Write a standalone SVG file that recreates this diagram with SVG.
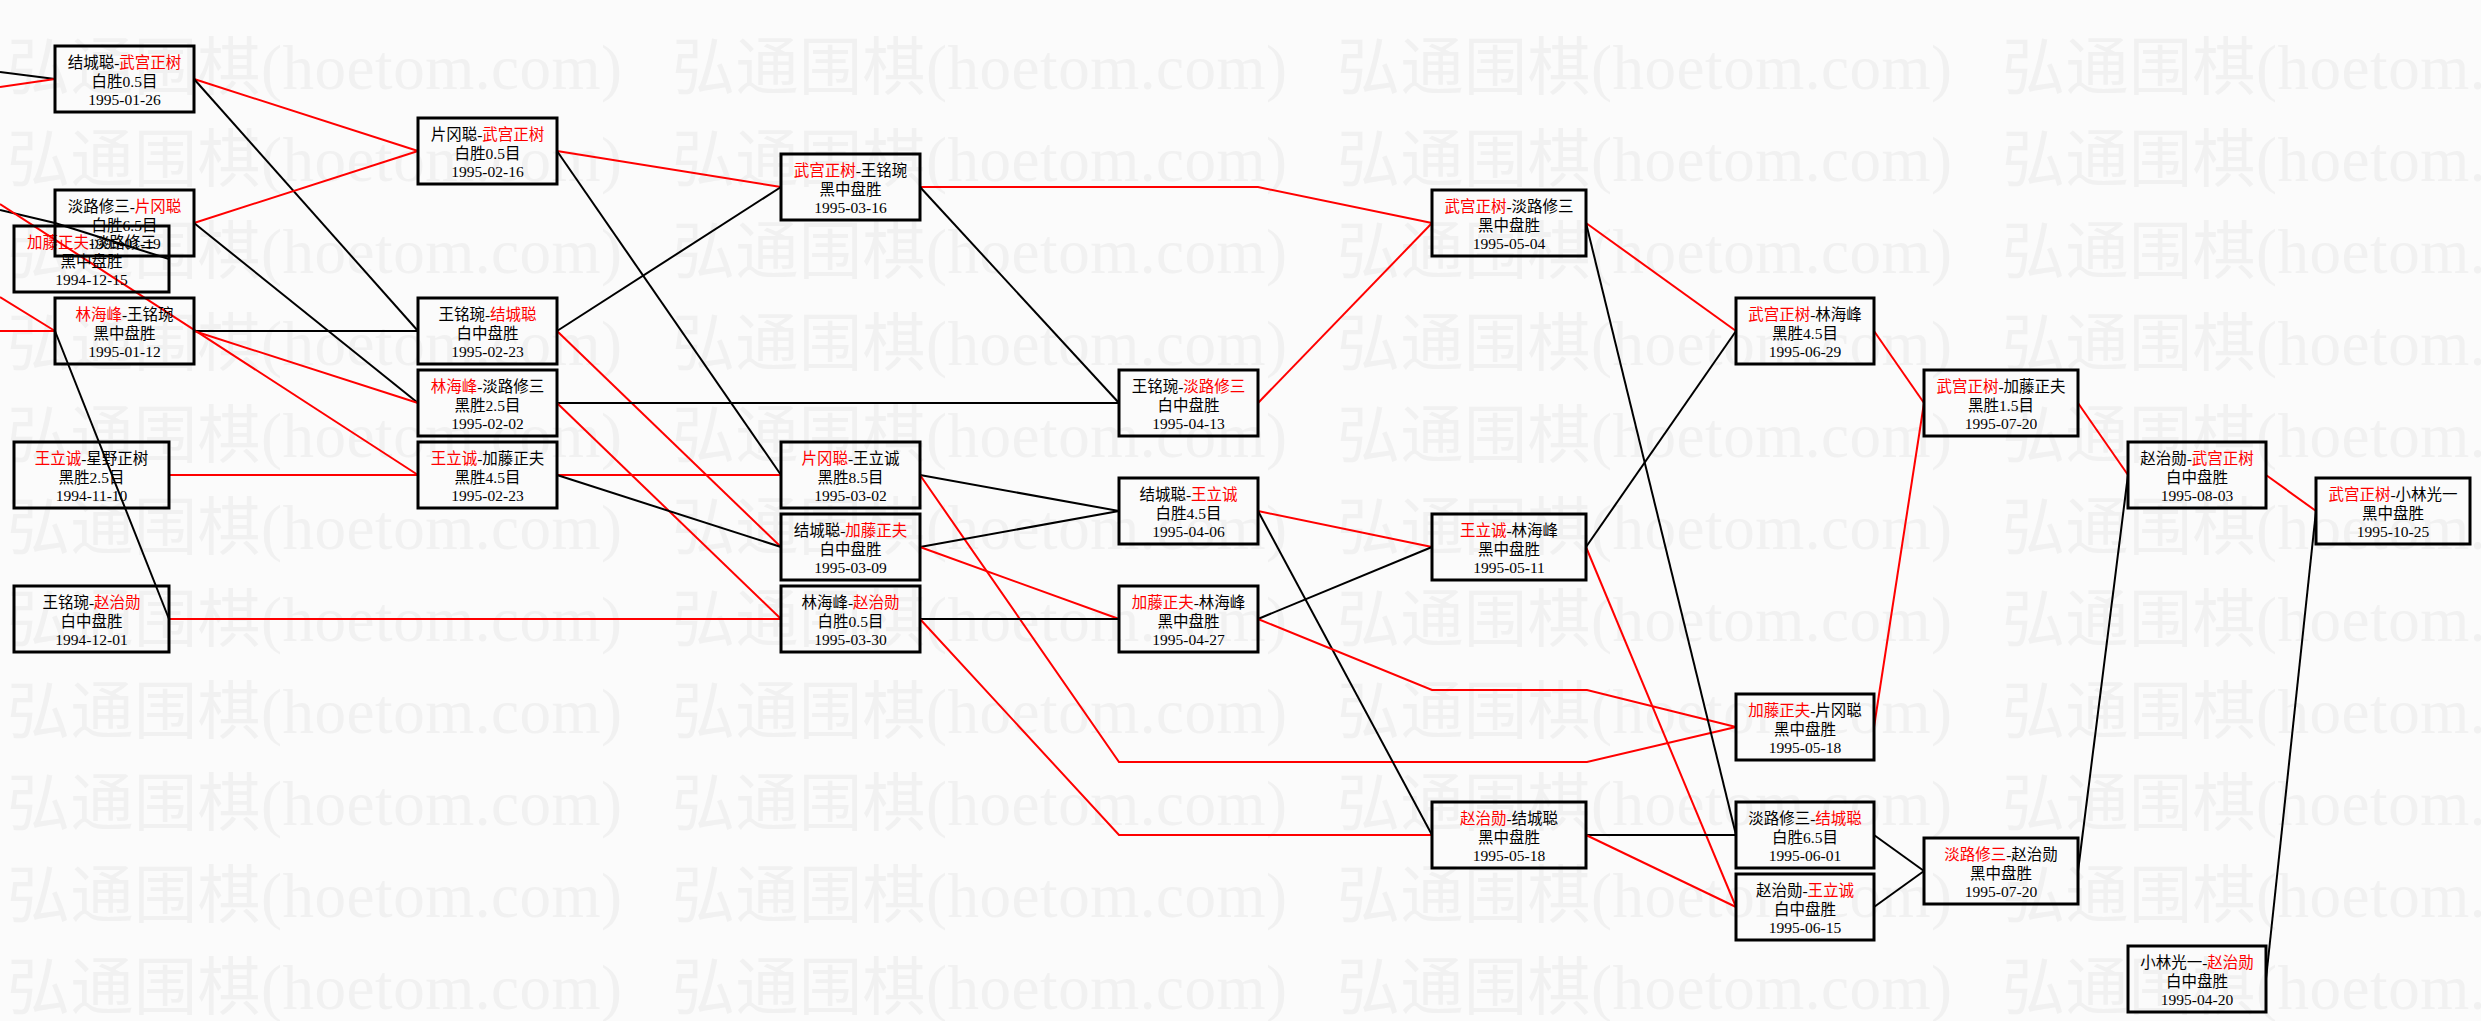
<svg xmlns="http://www.w3.org/2000/svg" width="2481" height="1021" viewBox="0 0 2481 1021">
<style>
.bg{fill:#fbfbfb}
.wm{font-family:"Liberation Serif","Noto Sans CJK SC",serif;font-size:63px;fill:#f1f1f1}
.node rect{fill:none;stroke:#000;stroke-width:3}
.node text{font-family:"Liberation Serif","Noto Sans CJK SC",serif;font-size:15.5px;fill:#000;text-anchor:middle}
.node .r{fill:#ff0000}
.k{stroke:#000;stroke-width:2;fill:none}
.e{stroke:#ff0000;stroke-width:2;fill:none}
</style>
<rect class="bg" x="0" y="0" width="2481" height="1021"/>
<g id="watermark" class="wm">
<text x="7" y="89" textLength="615" lengthAdjust="spacing">弘通围棋(hoetom.com)</text><text x="672" y="89" textLength="615" lengthAdjust="spacing">弘通围棋(hoetom.com)</text><text x="1337" y="89" textLength="615" lengthAdjust="spacing">弘通围棋(hoetom.com)</text><text x="2002" y="89" textLength="615" lengthAdjust="spacing">弘通围棋(hoetom.com)</text>
<text x="7" y="181" textLength="615" lengthAdjust="spacing">弘通围棋(hoetom.com)</text><text x="672" y="181" textLength="615" lengthAdjust="spacing">弘通围棋(hoetom.com)</text><text x="1337" y="181" textLength="615" lengthAdjust="spacing">弘通围棋(hoetom.com)</text><text x="2002" y="181" textLength="615" lengthAdjust="spacing">弘通围棋(hoetom.com)</text>
<text x="7" y="273" textLength="615" lengthAdjust="spacing">弘通围棋(hoetom.com)</text><text x="672" y="273" textLength="615" lengthAdjust="spacing">弘通围棋(hoetom.com)</text><text x="1337" y="273" textLength="615" lengthAdjust="spacing">弘通围棋(hoetom.com)</text><text x="2002" y="273" textLength="615" lengthAdjust="spacing">弘通围棋(hoetom.com)</text>
<text x="7" y="365" textLength="615" lengthAdjust="spacing">弘通围棋(hoetom.com)</text><text x="672" y="365" textLength="615" lengthAdjust="spacing">弘通围棋(hoetom.com)</text><text x="1337" y="365" textLength="615" lengthAdjust="spacing">弘通围棋(hoetom.com)</text><text x="2002" y="365" textLength="615" lengthAdjust="spacing">弘通围棋(hoetom.com)</text>
<text x="7" y="457" textLength="615" lengthAdjust="spacing">弘通围棋(hoetom.com)</text><text x="672" y="457" textLength="615" lengthAdjust="spacing">弘通围棋(hoetom.com)</text><text x="1337" y="457" textLength="615" lengthAdjust="spacing">弘通围棋(hoetom.com)</text><text x="2002" y="457" textLength="615" lengthAdjust="spacing">弘通围棋(hoetom.com)</text>
<text x="7" y="549" textLength="615" lengthAdjust="spacing">弘通围棋(hoetom.com)</text><text x="672" y="549" textLength="615" lengthAdjust="spacing">弘通围棋(hoetom.com)</text><text x="1337" y="549" textLength="615" lengthAdjust="spacing">弘通围棋(hoetom.com)</text><text x="2002" y="549" textLength="615" lengthAdjust="spacing">弘通围棋(hoetom.com)</text>
<text x="7" y="641" textLength="615" lengthAdjust="spacing">弘通围棋(hoetom.com)</text><text x="672" y="641" textLength="615" lengthAdjust="spacing">弘通围棋(hoetom.com)</text><text x="1337" y="641" textLength="615" lengthAdjust="spacing">弘通围棋(hoetom.com)</text><text x="2002" y="641" textLength="615" lengthAdjust="spacing">弘通围棋(hoetom.com)</text>
<text x="7" y="733" textLength="615" lengthAdjust="spacing">弘通围棋(hoetom.com)</text><text x="672" y="733" textLength="615" lengthAdjust="spacing">弘通围棋(hoetom.com)</text><text x="1337" y="733" textLength="615" lengthAdjust="spacing">弘通围棋(hoetom.com)</text><text x="2002" y="733" textLength="615" lengthAdjust="spacing">弘通围棋(hoetom.com)</text>
<text x="7" y="825" textLength="615" lengthAdjust="spacing">弘通围棋(hoetom.com)</text><text x="672" y="825" textLength="615" lengthAdjust="spacing">弘通围棋(hoetom.com)</text><text x="1337" y="825" textLength="615" lengthAdjust="spacing">弘通围棋(hoetom.com)</text><text x="2002" y="825" textLength="615" lengthAdjust="spacing">弘通围棋(hoetom.com)</text>
<text x="7" y="917" textLength="615" lengthAdjust="spacing">弘通围棋(hoetom.com)</text><text x="672" y="917" textLength="615" lengthAdjust="spacing">弘通围棋(hoetom.com)</text><text x="1337" y="917" textLength="615" lengthAdjust="spacing">弘通围棋(hoetom.com)</text><text x="2002" y="917" textLength="615" lengthAdjust="spacing">弘通围棋(hoetom.com)</text>
<text x="7" y="1009" textLength="615" lengthAdjust="spacing">弘通围棋(hoetom.com)</text><text x="672" y="1009" textLength="615" lengthAdjust="spacing">弘通围棋(hoetom.com)</text><text x="1337" y="1009" textLength="615" lengthAdjust="spacing">弘通围棋(hoetom.com)</text><text x="2002" y="1009" textLength="615" lengthAdjust="spacing">弘通围棋(hoetom.com)</text>
</g>
<g id="connectors">
<path class="k" d="M0,72 L55,79"/>
<path class="e" d="M0,87 L55,79"/>
<path class="k" d="M0,210 L55,223"/>
<path class="e" d="M0,204 L418,475"/>
<path class="e" d="M0,297 L55,331"/>
<path class="e" d="M0,331 L55,331"/>
<path class="k" d="M169,259 L55,223"/>
<path class="k" d="M169,619 L55,331"/>
<path class="e" d="M169,475 L418,475"/>
<path class="e" d="M169,619 L781,619"/>
<path class="e" d="M194,79 L418,151"/>
<path class="k" d="M194,79 L418,331"/>
<path class="e" d="M194,223 L418,151"/>
<path class="k" d="M194,223 L418,403"/>
<path class="k" d="M194,331 L418,331"/>
<path class="e" d="M194,331 L418,403"/>
<path class="e" d="M557,151 L781,187"/>
<path class="k" d="M557,151 L781,475"/>
<path class="k" d="M557,331 L781,187"/>
<path class="e" d="M557,331 L781,547"/>
<path class="k" d="M557,403 L1119,403"/>
<path class="e" d="M557,403 L781,619"/>
<path class="e" d="M557,475 L781,475"/>
<path class="k" d="M557,475 L781,547"/>
<path class="e" d="M920,187 L1258,187 L1432,223"/>
<path class="k" d="M920,187 L1119,403"/>
<path class="k" d="M920,475 L1119,511"/>
<path class="e" d="M920,475 L1119,762 L1587,762 L1736,727"/>
<path class="k" d="M920,547 L1119,511"/>
<path class="e" d="M920,547 L1119,619"/>
<path class="k" d="M920,619 L1119,619"/>
<path class="e" d="M920,619 L1119,835 L1432,835"/>
<path class="e" d="M1258,403 L1432,223"/>
<path class="e" d="M1258,511 L1432,547"/>
<path class="k" d="M1258,511 L1432,835"/>
<path class="k" d="M1258,619 L1432,547"/>
<path class="e" d="M1258,619 L1432,690 L1587,690 L1736,727"/>
<path class="e" d="M1586,223 L1736,331"/>
<path class="k" d="M1586,223 L1736,835"/>
<path class="k" d="M1586,547 L1736,331"/>
<path class="e" d="M1586,547 L1736,907"/>
<path class="k" d="M1586,835 L1736,835"/>
<path class="e" d="M1586,835 L1736,907"/>
<path class="e" d="M1874,331 L1924,403"/>
<path class="e" d="M1874,727 L1924,403"/>
<path class="k" d="M1874,835 L1924,871"/>
<path class="k" d="M1874,907 L1924,871"/>
<path class="e" d="M2078,403 L2128,475"/>
<path class="k" d="M2078,871 L2128,475"/>
<path class="e" d="M2266,475 L2316,511"/>
<path class="k" d="M2266,979 L2316,511"/>
</g>
<g id="nA1" class="node"><rect x="14" y="226" width="155" height="66"/><text x="91.5" y="248"><tspan class="r">加藤正夫</tspan>-淡路修三</text><text x="91.5" y="266.5">黑中盘胜</text><text x="91.5" y="285">1994-12-15</text></g>
<g id="nA2" class="node"><rect x="14" y="442" width="155" height="66"/><text x="91.5" y="464"><tspan class="r">王立诚</tspan>-星野正树</text><text x="91.5" y="482.5">黑胜2.5目</text><text x="91.5" y="501">1994-11-10</text></g>
<g id="nA3" class="node"><rect x="14" y="586" width="155" height="66"/><text x="91.5" y="608">王铭琬-<tspan class="r">赵治勋</tspan></text><text x="91.5" y="626.5">白中盘胜</text><text x="91.5" y="645">1994-12-01</text></g>
<g id="nB1" class="node"><rect x="55" y="46" width="139" height="66"/><text x="124.5" y="68">结城聪-<tspan class="r">武宫正树</tspan></text><text x="124.5" y="86.5">白胜0.5目</text><text x="124.5" y="105">1995-01-26</text></g>
<g id="nB2" class="node"><rect x="55" y="190" width="139" height="66"/><text x="124.5" y="212">淡路修三-<tspan class="r">片冈聪</tspan></text><text x="124.5" y="230.5">白胜6.5目</text><text x="124.5" y="249">1995-01-19</text></g>
<g id="nB3" class="node"><rect x="55" y="298" width="139" height="66"/><text x="124.5" y="320"><tspan class="r">林海峰</tspan>-王铭琬</text><text x="124.5" y="338.5">黑中盘胜</text><text x="124.5" y="357">1995-01-12</text></g>
<g id="nC1" class="node"><rect x="418" y="118" width="139" height="66"/><text x="487.5" y="140">片冈聪-<tspan class="r">武宫正树</tspan></text><text x="487.5" y="158.5">白胜0.5目</text><text x="487.5" y="177">1995-02-16</text></g>
<g id="nC2" class="node"><rect x="418" y="298" width="139" height="66"/><text x="487.5" y="320">王铭琬-<tspan class="r">结城聪</tspan></text><text x="487.5" y="338.5">白中盘胜</text><text x="487.5" y="357">1995-02-23</text></g>
<g id="nC3" class="node"><rect x="418" y="370" width="139" height="66"/><text x="487.5" y="392"><tspan class="r">林海峰</tspan>-淡路修三</text><text x="487.5" y="410.5">黑胜2.5目</text><text x="487.5" y="429">1995-02-02</text></g>
<g id="nC4" class="node"><rect x="418" y="442" width="139" height="66"/><text x="487.5" y="464"><tspan class="r">王立诚</tspan>-加藤正夫</text><text x="487.5" y="482.5">黑胜4.5目</text><text x="487.5" y="501">1995-02-23</text></g>
<g id="nD1" class="node"><rect x="781" y="154" width="139" height="66"/><text x="850.5" y="176"><tspan class="r">武宫正树</tspan>-王铭琬</text><text x="850.5" y="194.5">黑中盘胜</text><text x="850.5" y="213">1995-03-16</text></g>
<g id="nD2" class="node"><rect x="781" y="442" width="139" height="66"/><text x="850.5" y="464"><tspan class="r">片冈聪</tspan>-王立诚</text><text x="850.5" y="482.5">黑胜8.5目</text><text x="850.5" y="501">1995-03-02</text></g>
<g id="nD3" class="node"><rect x="781" y="514" width="139" height="66"/><text x="850.5" y="536">结城聪-<tspan class="r">加藤正夫</tspan></text><text x="850.5" y="554.5">白中盘胜</text><text x="850.5" y="573">1995-03-09</text></g>
<g id="nD4" class="node"><rect x="781" y="586" width="139" height="66"/><text x="850.5" y="608">林海峰-<tspan class="r">赵治勋</tspan></text><text x="850.5" y="626.5">白胜0.5目</text><text x="850.5" y="645">1995-03-30</text></g>
<g id="nE1" class="node"><rect x="1119" y="370" width="139" height="66"/><text x="1188.5" y="392">王铭琬-<tspan class="r">淡路修三</tspan></text><text x="1188.5" y="410.5">白中盘胜</text><text x="1188.5" y="429">1995-04-13</text></g>
<g id="nE2" class="node"><rect x="1119" y="478" width="139" height="66"/><text x="1188.5" y="500">结城聪-<tspan class="r">王立诚</tspan></text><text x="1188.5" y="518.5">白胜4.5目</text><text x="1188.5" y="537">1995-04-06</text></g>
<g id="nE3" class="node"><rect x="1119" y="586" width="139" height="66"/><text x="1188.5" y="608"><tspan class="r">加藤正夫</tspan>-林海峰</text><text x="1188.5" y="626.5">黑中盘胜</text><text x="1188.5" y="645">1995-04-27</text></g>
<g id="nF1" class="node"><rect x="1432" y="190" width="154" height="66"/><text x="1509" y="212"><tspan class="r">武宫正树</tspan>-淡路修三</text><text x="1509" y="230.5">黑中盘胜</text><text x="1509" y="249">1995-05-04</text></g>
<g id="nF2" class="node"><rect x="1432" y="514" width="154" height="66"/><text x="1509" y="536"><tspan class="r">王立诚</tspan>-林海峰</text><text x="1509" y="554.5">黑中盘胜</text><text x="1509" y="573">1995-05-11</text></g>
<g id="nF3" class="node"><rect x="1432" y="802" width="154" height="66"/><text x="1509" y="824"><tspan class="r">赵治勋</tspan>-结城聪</text><text x="1509" y="842.5">黑中盘胜</text><text x="1509" y="861">1995-05-18</text></g>
<g id="nG1" class="node"><rect x="1736" y="298" width="138" height="66"/><text x="1805" y="320"><tspan class="r">武宫正树</tspan>-林海峰</text><text x="1805" y="338.5">黑胜4.5目</text><text x="1805" y="357">1995-06-29</text></g>
<g id="nG2" class="node"><rect x="1736" y="694" width="138" height="66"/><text x="1805" y="716"><tspan class="r">加藤正夫</tspan>-片冈聪</text><text x="1805" y="734.5">黑中盘胜</text><text x="1805" y="753">1995-05-18</text></g>
<g id="nG3" class="node"><rect x="1736" y="802" width="138" height="66"/><text x="1805" y="824">淡路修三-<tspan class="r">结城聪</tspan></text><text x="1805" y="842.5">白胜6.5目</text><text x="1805" y="861">1995-06-01</text></g>
<g id="nG4" class="node"><rect x="1736" y="874" width="138" height="66"/><text x="1805" y="896">赵治勋-<tspan class="r">王立诚</tspan></text><text x="1805" y="914.5">白中盘胜</text><text x="1805" y="933">1995-06-15</text></g>
<g id="nH1" class="node"><rect x="1924" y="370" width="154" height="66"/><text x="2001" y="392"><tspan class="r">武宫正树</tspan>-加藤正夫</text><text x="2001" y="410.5">黑胜1.5目</text><text x="2001" y="429">1995-07-20</text></g>
<g id="nH2" class="node"><rect x="1924" y="838" width="154" height="66"/><text x="2001" y="860"><tspan class="r">淡路修三</tspan>-赵治勋</text><text x="2001" y="878.5">黑中盘胜</text><text x="2001" y="897">1995-07-20</text></g>
<g id="nI1" class="node"><rect x="2128" y="442" width="138" height="66"/><text x="2197" y="464">赵治勋-<tspan class="r">武宫正树</tspan></text><text x="2197" y="482.5">白中盘胜</text><text x="2197" y="501">1995-08-03</text></g>
<g id="nI2" class="node"><rect x="2128" y="946" width="138" height="66"/><text x="2197" y="968">小林光一-<tspan class="r">赵治勋</tspan></text><text x="2197" y="986.5">白中盘胜</text><text x="2197" y="1005">1995-04-20</text></g>
<g id="nJ1" class="node"><rect x="2316" y="478" width="154" height="66"/><text x="2393" y="500"><tspan class="r">武宫正树</tspan>-小林光一</text><text x="2393" y="518.5">黑中盘胜</text><text x="2393" y="537">1995-10-25</text></g>
</svg>
